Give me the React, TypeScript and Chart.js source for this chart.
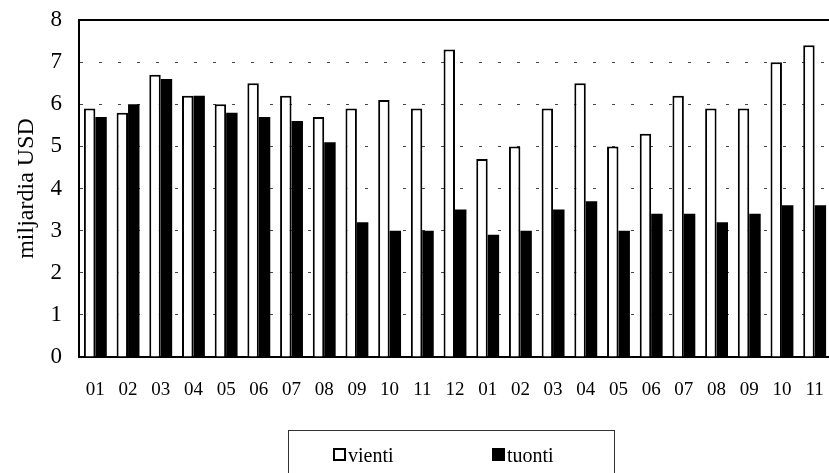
import React, { useEffect, useRef } from 'react';
import { Chart, registerables } from 'chart.js';

Chart.register(...registerables);

const months = ['01', '02', '03', '04', '05', '06', '07', '08', '09', '10', '11', '12',
  '01', '02', '03', '04', '05', '06', '07', '08', '09', '10', '11'];
const vienti = [5.9, 5.8, 6.7, 6.2, 6.0, 6.5, 6.2, 5.7, 5.9, 6.1, 5.9, 7.3,
  4.7, 5.0, 5.9, 6.5, 5.0, 5.3, 6.2, 5.9, 5.9, 7.0, 7.4];
const tuonti = [5.7, 6.0, 6.6, 6.2, 5.8, 5.7, 5.6, 5.1, 3.2, 3.0, 3.0, 3.5,
  2.9, 3.0, 3.5, 3.7, 3.0, 3.4, 3.4, 3.2, 3.4, 3.6, 3.6];
const yMin = 0;
const yMax = 8;
const yStep = 1;
const yTitle = 'miljardia USD';
const seriesNames = ['vienti', 'tuonti'];

const FONT = "'Liberation Serif', 'Times New Roman', serif";

const topBorder = {
  id: 'topBorder',
  afterDraw(chart: any) {
    const { ctx, chartArea } = chart;
    ctx.save();
    ctx.strokeStyle = '#000';
    ctx.lineWidth = 2;
    ctx.beginPath();
    ctx.moveTo(chartArea.left, chartArea.top);
    ctx.lineTo(chartArea.right, chartArea.top);
    ctx.stroke();
    ctx.restore();
  },
};

export default function App() {
  const ref = useRef<HTMLCanvasElement>(null);

  useEffect(() => {
    if (!ref.current) return;
    const chart = new Chart(ref.current, {
      type: 'bar',
      data: {
        labels: months,
        datasets: [
          {
            label: seriesNames[0],
            data: vienti,
            backgroundColor: '#ffffff',
            borderColor: '#000000',
            borderWidth: 2,
            borderSkipped: 'start',
            categoryPercentage: 0.7,
            barPercentage: 1.0,
          },
          {
            label: seriesNames[1],
            data: tuonti,
            backgroundColor: '#000000',
            borderColor: '#000000',
            borderWidth: 0,
            categoryPercentage: 0.7,
            barPercentage: 1.0,
          },
        ],
      },
      options: {
        animation: false,
        responsive: false,
        maintainAspectRatio: false,
        layout: { padding: { top: 20, left: 0, right: 0, bottom: 0 } },
        plugins: {
          legend: { display: false },
          tooltip: { enabled: false },
        },
        scales: {
          x: {
            offset: true,
            grid: {
              display: true,
              drawOnChartArea: false,
              drawTicks: true,
              tickLength: 22,
              tickColor: 'rgba(0,0,0,0)',
            },
            border: { display: true, color: '#000', width: 2 },
            ticks: {
              color: '#000',
              font: { family: FONT, size: 19 },
              padding: 0,
              maxRotation: 0,
              autoSkip: false,
            },
            afterFit: (s: any) => { s.height = 116; },
          },
          y: {
            min: yMin,
            max: yMax,
            ticks: {
              stepSize: yStep,
              color: '#000',
              font: { family: FONT, size: 23 },
              padding: 0,
            },
            grid: {
              color: '#444',
              lineWidth: 1,
              drawTicks: true,
              tickLength: 17,
              tickColor: 'rgba(0,0,0,0)',
            },
            border: { display: true, color: '#000', width: 2, dash: [3, 16] },
            title: {
              display: true,
              text: yTitle,
              color: '#000',
              font: { family: FONT, size: 24 },
              padding: { top: 12, bottom: 0 },
            },
            afterFit: (s: any) => { s.width = 79; },
          },
        },
      },
      plugins: [topBorder],
    });
    return () => chart.destroy();
  }, []);

  const itemText: React.CSSProperties = {
    position: 'absolute',
    top: 12,
    fontFamily: FONT,
    fontSize: 20,
    lineHeight: '24px',
    color: '#000',
  };

  return (
    <div style={{ position: 'fixed', left: 0, top: 0, width: 829, height: 473, overflow: 'hidden', background: '#fff' }}>
      <canvas ref={ref} width={831} height={473} style={{ display: 'block', width: 831, height: 473 }} />
      <div style={{ position: 'absolute', left: 288, top: 430, width: 327, height: 60, border: '1px solid #333', boxSizing: 'border-box' }}>
        <div style={{ position: 'absolute', left: 44, top: 17, width: 13, height: 13, border: '2px solid #000', boxSizing: 'border-box', background: '#fff' }} />
        <div style={{ ...itemText, left: 59 }}>{seriesNames[0]}</div>
        <div style={{ position: 'absolute', left: 203, top: 17, width: 13, height: 13, background: '#000' }} />
        <div style={{ ...itemText, left: 218 }}>{seriesNames[1]}</div>
      </div>
    </div>
  );
}
